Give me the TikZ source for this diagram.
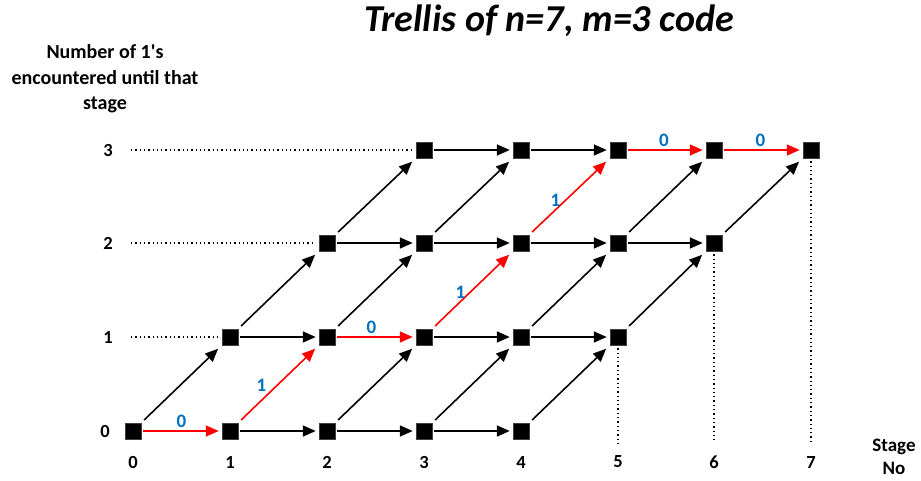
\documentclass[tikz,border=0pt]{standalone}
\usepackage{fontspec}
\setmainfont{Carlito}
\usetikzlibrary{arrows.meta}
\definecolor{lblue}{HTML}{0070C0}
\begin{document}
\begin{tikzpicture}[x=1pt,y=-1pt,
  st/.style={fill=black, draw=black!75, line width=0.5pt, minimum size=16pt, inner sep=0pt},
  ed/.style={line width=1.6pt, -{Triangle[length=13pt,width=11pt]}},
  hz/.style={ed, shorten <=2pt, shorten >=3pt},
  dg/.style={ed, shorten <=4pt, shorten >=5pt},
  lab/.style={font=\fontsize{19}{22}\selectfont\bfseries, text=lblue},
  ax/.style={font=\fontsize{18.5}{22}\selectfont\bfseries},
  dots/.style={line width=1.3pt, dash pattern=on 1.3pt off 3pt}]
\useasboundingbox (0,0) rectangle (921,481);
% red-path markers
\expandafter\def\csname redh-0-0\endcsname{}
\expandafter\def\csname redh-2-1\endcsname{}
\expandafter\def\csname redh-5-3\endcsname{}
\expandafter\def\csname redh-6-3\endcsname{}
\expandafter\def\csname redd-1-0\endcsname{}
\expandafter\def\csname redd-3-1\endcsname{}
\expandafter\def\csname redd-4-2\endcsname{}
% states
\foreach \i/\x in {0/133,1/230,2/327,3/424,4/521,5/618,6/714,7/811}
  \foreach \j/\y in {0/431,1/337,2/243,3/150}{
    \ifnum\j>\i\relax\else
      \ifnum\numexpr\i-\j\relax>4\relax\else
        \node[st] (n-\i-\j) at (\x,\y) {};
      \fi
    \fi
  }
% black horizontal edges
\foreach \j in {0,...,3}
  \foreach \k in {0,...,3}{
    \pgfmathtruncatemacro\i{\j+\k}
    \pgfmathtruncatemacro\ii{\i+1}
    \ifcsname redh-\i-\j\endcsname\else
      \draw[hz] (n-\i-\j.east) -- (n-\ii-\j.west);
    \fi
  }
% black diagonal edges
\foreach \j in {0,...,2}
  \foreach \k in {0,...,4}{
    \pgfmathtruncatemacro\i{\j+\k}
    \pgfmathtruncatemacro\ii{\i+1}
    \pgfmathtruncatemacro\jj{\j+1}
    \ifcsname redd-\i-\j\endcsname\else
      \draw[dg] (n-\i-\j.north east) -- (n-\ii-\jj.south west);
    \fi
  }
% red path
\draw[hz, red] (n-0-0.east) -- (n-1-0.west) node[lab, midway, yshift=10pt] {0};
\draw[dg, red] (n-1-0.north east) -- (n-2-1.south west) node[lab, midway, xshift=-17pt, yshift=-1pt] {1};
\draw[hz, red] (n-2-1.east) -- (n-3-1.west) node[lab, midway, xshift=-4pt, yshift=10pt] {0};
\draw[dg, red] (n-3-1.north east) -- (n-4-2.south west) node[lab, midway, xshift=-12pt, yshift=-2pt] {1};
\draw[dg, red] (n-4-2.north east) -- (n-5-3.south west) node[lab, midway, xshift=-14pt, yshift=-4pt] {1};
\draw[hz, red] (n-5-3.east) -- (n-6-3.west) node[lab, midway, xshift=-2pt, yshift=10pt] {0};
\draw[hz, red] (n-6-3.east) -- (n-7-3.west) node[lab, midway, xshift=-2pt, yshift=10pt] {0};
% dotted guide lines
\coordinate (l1) at (131,337);
\coordinate (l2) at (131,243);
\coordinate (l3) at (131,150);
\draw[dots, shorten >=3pt] (l1) -- (n-1-1.west);
\draw[dots, shorten >=3pt] (l2) -- (n-2-2.west);
\draw[dots, shorten >=3pt] (l3) -- (n-3-3.west);
\coordinate (b5) at (618,443);
\coordinate (b6) at (714,443);
\coordinate (b7) at (811,443);
\draw[dots, shorten <=3pt] (n-5-1.south) -- (b5);
\draw[dots, shorten <=3pt] (n-6-2.south) -- (b6);
\draw[dots, shorten <=3pt] (n-7-3.south) -- (b7);
% axis labels
\node[ax] (y0) at (105,431) {0};
\node[ax] (y1) at (108,337) {1};
\node[ax] (y2) at (108,243) {2};
\node[ax] (y3) at (108,150) {3};
\foreach \i/\x in {0/133,1/230,2/327,3/424,4/521,5/618,6/714,7/811}
  \node[ax] (x\i) at (\x,462) {\i};
\node[font=\fontsize{19}{23}\selectfont\bfseries, align=center] (stage) at (894,457) {Stage\\No};
\node[font=\fontsize{20}{25.5}\selectfont\bfseries, align=center] (ytitle) at (105,79)
  {Number of 1\textquotesingle s\\encountered until that\\stage};
\node[font=\fontsize{38}{42}\selectfont\bfseries\itshape] (title) at (549,21) {Trellis of n=7, m=3 code};
\end{tikzpicture}
\end{document}
